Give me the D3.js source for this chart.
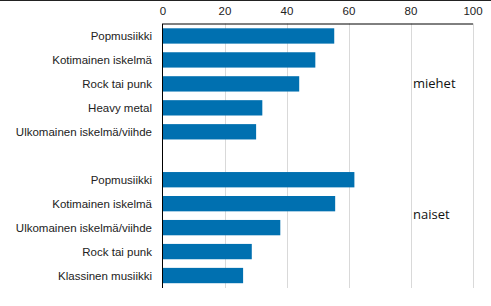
<!DOCTYPE html>
<html><head><meta charset="utf-8">
<script src="https://cdn.jsdelivr.net/npm/d3@7"></script>
<style>body{margin:0;background:#fff}svg{display:block}</style>
</head><body><svg id="c" width="491" height="306"></svg>
<script>
const categories = ["Popmusiikki","Kotimainen iskelmä","Rock tai punk","Heavy metal","Ulkomainen iskelmä/viihde","",
  "Popmusiikki","Kotimainen iskelmä","Ulkomainen iskelmä/viihde","Rock tai punk","Klassinen musiikki"];
const values = [55.4,49.3,44.1,32.2,30.2,null,61.9,55.7,38.0,28.8,26.0];
const groupLabels = ["miehet","naiset"];
const ticks = [0,20,40,60,80,100];

const svg = d3.select("#c");
const m = {l:162.5, r:472.5, t:23.5, b:288};
const keys = categories.map((c,i)=>i);
const x = d3.scaleLinear().domain([0,100]).range([m.l,m.r]);
const y = d3.scaleBand().domain(keys).range([m.t,m.b]).paddingInner(0.36).paddingOuter(0.2);

svg.append("line").attr("x1",0).attr("x2",491).attr("y1",0.5).attr("y2",0.5).attr("stroke","#222");

// gridlines
svg.append("g").selectAll("line").data(ticks.slice(1)).join("line")
  .attr("x1",d=>Math.round(x(d))+0.5).attr("x2",d=>Math.round(x(d))+0.5)
  .attr("y1",m.t).attr("y2",m.b).attr("stroke","#d9d9d9");

// bars
svg.append("g").selectAll("rect").data(values.map((v,i)=>({v,i})).filter(d=>d.v!=null)).join("rect")
  .attr("x",x(0)).attr("y",d=>y(d.i)).attr("width",d=>x(d.v)-x(0)).attr("height",y.bandwidth())
  .attr("fill","#0070b0");

// top axis
const ax = svg.append("g").attr("transform",`translate(0,${m.t})`)
  .call(d3.axisTop(x).tickValues(ticks).tickSize(0).tickPadding(9));
ax.select(".domain").attr("stroke","#000");
ax.selectAll("text").attr("font-family","Liberation Sans, Arial, sans-serif").attr("font-size",11.5).attr("fill","#222");

// left axis line
svg.append("line").attr("x1",m.l).attr("x2",m.l).attr("y1",m.t).attr("y2",m.b).attr("stroke","#000");

// category labels
svg.append("g").selectAll("text").data(categories.map((c,i)=>({c,i})).filter(d=>d.c)).join("text")
  .attr("x",152).attr("y",d=>y(d.i)+y.bandwidth()/2).attr("dy","0.35em")
  .attr("text-anchor","end").attr("font-family","Liberation Sans, Arial, sans-serif")
  .attr("font-size",11.5).attr("fill","#222").text(d=>d.c);

// group labels
const groupY = [y(2)+y.bandwidth()/2, y(8)-6];
svg.append("g").selectAll("text").data(groupLabels).join("text")
  .attr("x",413).attr("y",(d,i)=>groupY[i]).attr("dy","0.35em")
  .attr("font-family","Open Sans, sans-serif").attr("font-size",13).attr("fill","#111").text(d=>d);
</script></body></html>
